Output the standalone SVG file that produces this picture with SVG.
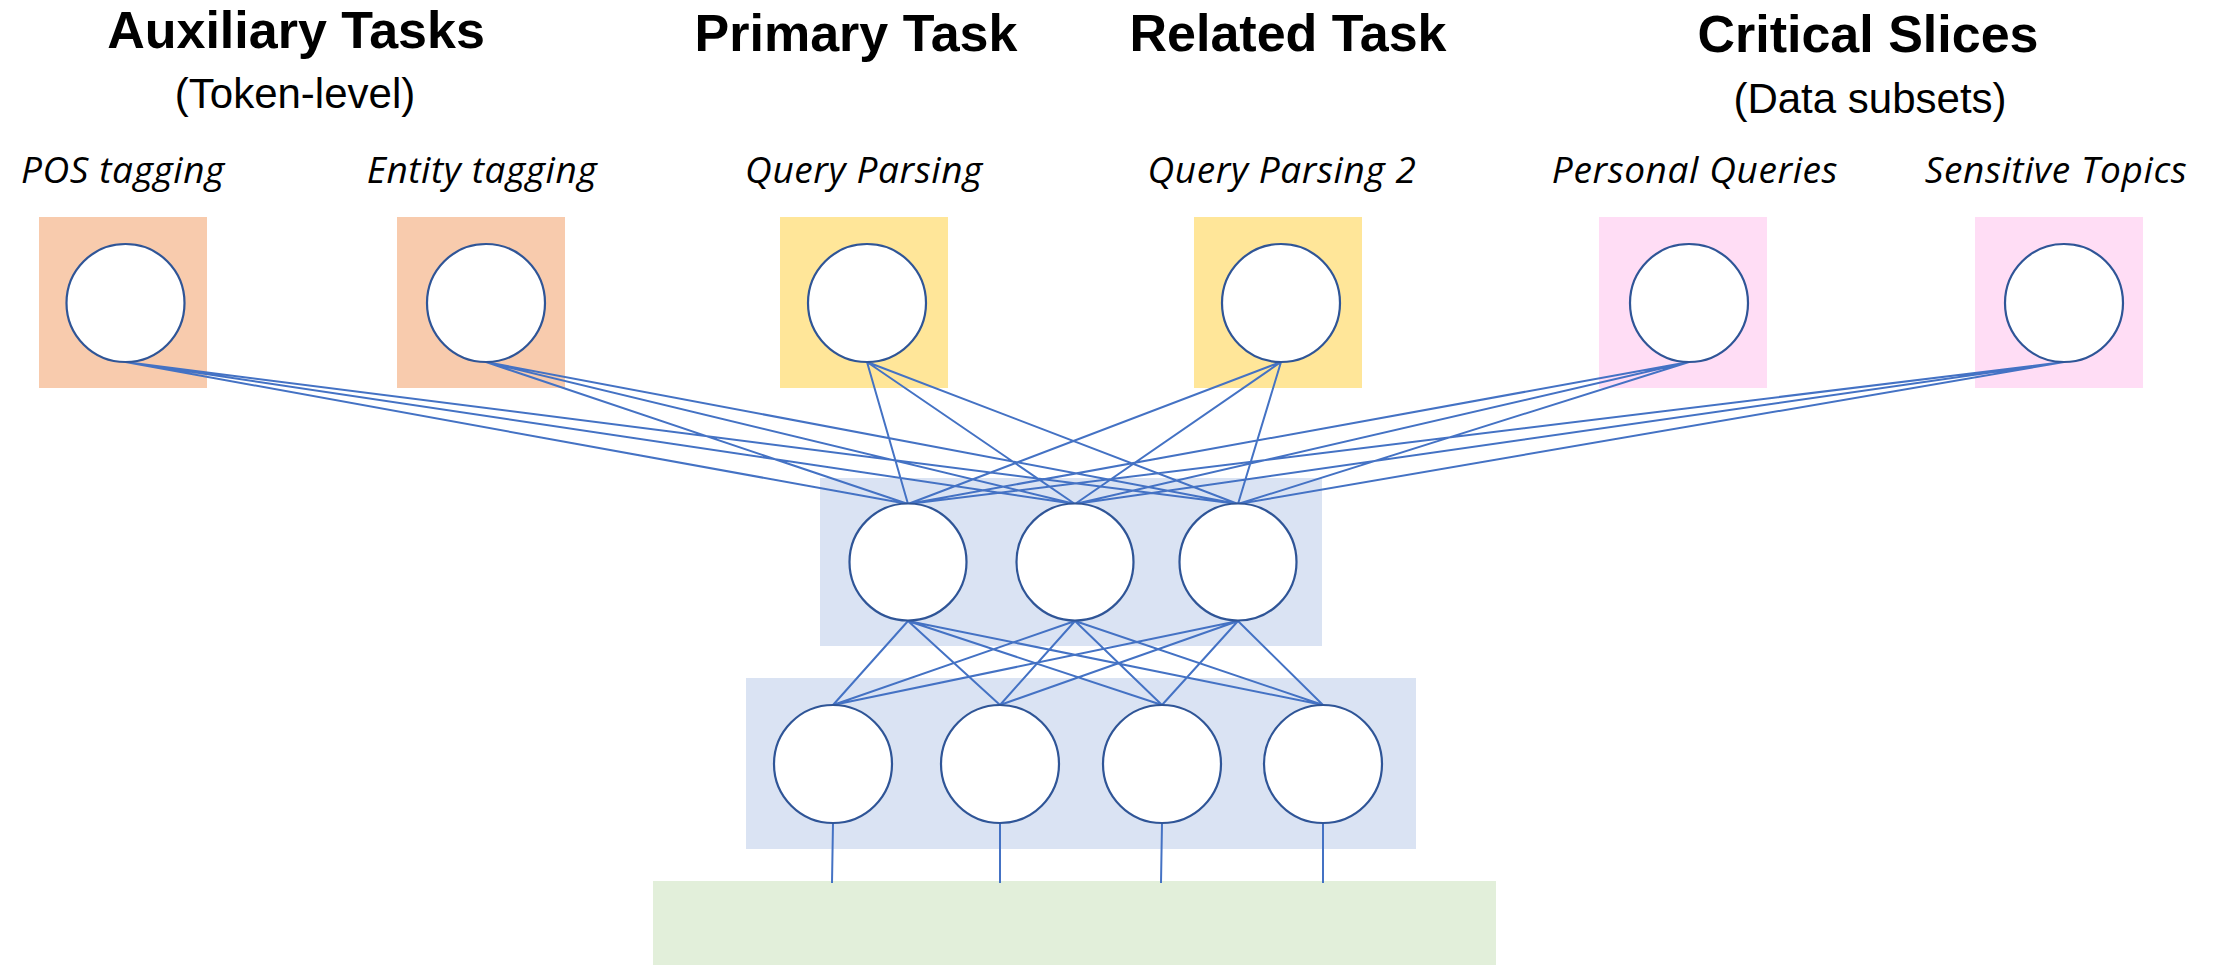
<svg xmlns="http://www.w3.org/2000/svg" width="2216" height="965" viewBox="0 0 2216 965">
<style>
.title{font-family:"Liberation Sans",Arial,sans-serif;font-weight:bold;font-size:52px;fill:#000;text-anchor:middle}
.sub{font-family:"Liberation Sans",Arial,sans-serif;font-size:42px;fill:#000;text-anchor:middle}
.lbl{font-family:"Open Sans","Noto Sans",sans-serif;font-style:italic;font-size:37px;letter-spacing:0.6px;fill:#000;text-anchor:middle}
.node{fill:#fff;stroke:#2F5597;stroke-width:2.2}
.c{stroke:#4472C4;stroke-width:2;fill:none}
.aux{fill:#F8CBAD}.pri{fill:#FFE699}.sl{fill:#FFDDF5}.hid{fill:#DAE3F3}.inp{fill:#E2EFDA}
</style>
<rect width="2216" height="965" fill="#fff"/>
<g id="titles">
<text class="title" x="296" y="48">Auxiliary Tasks</text>
<text class="sub" x="295" y="108">(Token-level)</text>
<text class="title" x="856" y="51">Primary Task</text>
<text class="title" x="1288" y="51">Related Task</text>
<text class="title" x="1868" y="52">Critical Slices</text>
<text class="sub" x="1870" y="113">(Data subsets)</text>
</g>
<g id="backgrounds">
<rect id="pos-bg" class="aux" x="39" y="217" width="168" height="171"/>
<rect id="entity-bg" class="aux" x="397" y="217" width="168" height="171"/>
<rect id="query-bg" class="pri" x="780" y="217" width="168" height="171"/>
<rect id="query2-bg" class="pri" x="1194" y="217" width="168" height="171"/>
<rect id="personal-bg" class="sl" x="1599" y="217" width="168" height="171"/>
<rect id="sensitive-bg" class="sl" x="1975" y="217" width="168" height="171"/>
<rect id="hidden1-bg" class="hid" x="820" y="478" width="502" height="168"/>
<rect id="hidden2-bg" class="hid" x="746" y="678" width="670" height="171"/>
<rect id="input" class="inp" x="653" y="881" width="843" height="84"/>
</g>
<g id="connectors">
<path class="c" d="M125.5 362L908 504M125.5 362L1075 504M125.5 362L1238 504
M486 362L908 504M486 362L1075 504M486 362L1238 504
M867 362L908 504M867 362L1075 504M867 362L1238 504
M1281 362L908 504M1281 362L1075 504M1281 362L1238 504
M1689 362L908 504M1689 362L1075 504M1689 362L1238 504
M2064 362L908 504M2064 362L1075 504M2064 362L1238 504
M908 621L833 705M908 621L1000 705M908 621L1162 705M908 621L1323 705
M1075 621L833 705M1075 621L1000 705M1075 621L1162 705M1075 621L1323 705
M1238 621L833 705M1238 621L1000 705M1238 621L1162 705M1238 621L1323 705
M833 823L832 883M1000 823L1000 883M1162 823L1161 883M1323 823L1323 883"/>
</g>
<g id="pos"><circle class="node" cx="125.5" cy="303" r="59"/><text class="lbl" x="123" y="183">POS tagging</text></g>
<g id="entity"><circle class="node" cx="486" cy="303" r="59"/><text class="lbl" x="482" y="183">Entity tagging</text></g>
<g id="query"><circle class="node" cx="867" cy="303" r="59"/><text class="lbl" x="864" y="183">Query Parsing</text></g>
<g id="query2"><circle class="node" cx="1281" cy="303" r="59"/><text class="lbl" x="1282" y="183">Query Parsing 2</text></g>
<g id="personal"><circle class="node" cx="1689" cy="303" r="59"/><text class="lbl" x="1695" y="183">Personal Queries</text></g>
<g id="sensitive"><circle class="node" cx="2064" cy="303" r="59"/><text class="lbl" x="2056" y="183">Sensitive Topics</text></g>
<g id="h1"><circle class="node" cx="908" cy="562" r="58.5"/></g>
<g id="h2"><circle class="node" cx="1075" cy="562" r="58.5"/></g>
<g id="h3"><circle class="node" cx="1238" cy="562" r="58.5"/></g>
<g id="b1"><circle class="node" cx="833" cy="764" r="59"/></g>
<g id="b2"><circle class="node" cx="1000" cy="764" r="59"/></g>
<g id="b3"><circle class="node" cx="1162" cy="764" r="59"/></g>
<g id="b4"><circle class="node" cx="1323" cy="764" r="59"/></g>
</svg>
